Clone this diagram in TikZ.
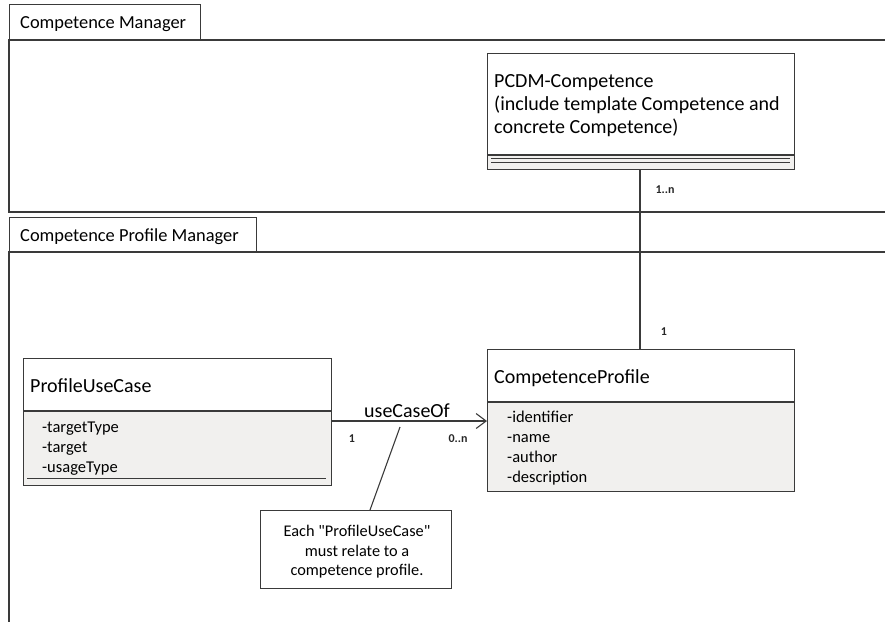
\documentclass[tikz,border=0pt]{standalone}
\usepackage{fontspec}
\setmainfont{Carlito}[Ligatures=TeXOff]
\usetikzlibrary{arrows.meta}

\definecolor{linegray}{HTML}{3A3A3A}
\definecolor{attrfill}{HTML}{F1F0EE}

\tikzset{
  pkgline/.style={draw=linegray, line width=1.1pt},
  classbox/.style={draw=linegray, line width=1.1pt, rectangle, inner sep=0pt},
  pkglabel/.style={font=\fontsize{18.4}{22}\selectfont, anchor=base west, inner sep=0pt, text=black},
  titletext/.style={font=\fontsize{20}{23}\selectfont, anchor=base west, inner sep=0pt, text=black},
  attrtext/.style={font=\fontsize{16.5}{20}\selectfont, anchor=base west, inner sep=0pt, text=black},
  multtext/.style={font=\fontsize{12}{14}\selectfont\bfseries, anchor=base, inner sep=0pt, text=black!85},
  notetext/.style={font=\fontsize{16.3}{20}\selectfont, anchor=base, inner sep=0pt, text=black},
  conn/.style={draw=linegray, line width=1.1pt},
}

\begin{document}
\begin{tikzpicture}[x=1pt, y=-1pt]
\useasboundingbox (0,0) rectangle (885,622);

% ---------- package: Competence Manager ----------
\node[classbox, anchor=north west, minimum width=191, minimum height=36] (cmTab) at (9,4) {};
\node[pkglabel] (cmLabel) at (20,28) {Competence Manager};
\draw[pkgline] (885,40) -- (9,40) -- (9,212) -- (885,212);

% ---------- package: Competence Profile Manager ----------
\node[classbox, anchor=north west, minimum width=247, minimum height=35] (cpmTab) at (9,217) {};
\node[pkglabel] (cpmLabel) at (20,241) {Competence Profile Manager};
\draw[pkgline] (885,252) -- (9,252) -- (9,622);

% ---------- class: PCDM-Competence ----------
\fill[attrfill] (487,155) rectangle (794,169);
\node[classbox, anchor=north west, minimum width=307, minimum height=116] (pcdm) at (487,53) {};
\draw[pkgline] (487,155) -- (794,155);
\draw[linegray, line width=0.8pt] (491,158.5) -- (790,158.5);
\draw[linegray, line width=0.8pt] (491,162) -- (790,162);
\node[titletext] (pcdmL1) at (494,87) {PCDM-Competence};
\node[titletext] (pcdmL2) at (494,110) {(include template Competence and};
\node[titletext] (pcdmL3) at (494,133) {concrete Competence)};

% ---------- class: CompetenceProfile ----------
\fill[attrfill] (487,402) rectangle (794,491);
\node[classbox, anchor=north west, minimum width=307, minimum height=142] (cp) at (487,349) {};
\draw[pkgline] (487,402) -- (794,402);
\node[titletext] (cpTitle) at (494,383) {CompetenceProfile};
\node[attrtext] (cpA1) at (507,422) {-identifier};
\node[attrtext] (cpA2) at (507,442) {-name};
\node[attrtext] (cpA3) at (507,462) {-author};
\node[attrtext] (cpA4) at (507,482) {-description};

% ---------- class: ProfileUseCase ----------
\fill[attrfill] (23,411) rectangle (331,485);
\node[classbox, anchor=north west, minimum width=308, minimum height=127] (puc) at (23,358) {};
\draw[pkgline] (23,411) -- (331,411);
\node[titletext] (pucTitle) at (30,392) {ProfileUseCase};
\node[attrtext] (pucA1) at (42,432) {-targetType};
\node[attrtext] (pucA2) at (42,452) {-target};
\node[attrtext] (pucA3) at (42,472) {-usageType};
\draw[linegray, line width=0.8pt] (27,478) -- (326,478);

% ---------- association PCDM-Competence -- CompetenceProfile ----------
\draw[conn] (pcdm.south -| 640,0) -- (cp.north -| 640,0);
\node[multtext] (multTop) at (665,193) {1..n};
\node[multtext] (multBottom) at (664,335) {1};

% ---------- association useCaseOf ----------
\draw[conn, -{Straight Barb[length=10pt, width=15pt, line width=1.1pt]}]
  (puc.east |- 0,421) -- (cp.west |- 0,421);
\node[font=\fontsize{20}{23}\selectfont, anchor=base, inner sep=0pt] (ucLabel) at (407,417) {useCaseOf};
\node[multtext] (multLeft) at (352,442) {1};
\node[multtext] (multRight) at (458,442) {0..n};

% ---------- note ----------
\node[classbox, anchor=north west, minimum width=191, minimum height=78, fill=white] (note) at (260,510) {};
\node[notetext] (noteL1) at (357,536) {Each "ProfileUseCase"};
\node[notetext] (noteL2) at (357,556) {must relate to a};
\node[notetext] (noteL3) at (357,575) {competence profile.};
\coordinate (noteAnchor) at (400,427);
\draw[conn] (noteAnchor) -- (note.north -| 370,0);
\end{tikzpicture}
\end{document}
